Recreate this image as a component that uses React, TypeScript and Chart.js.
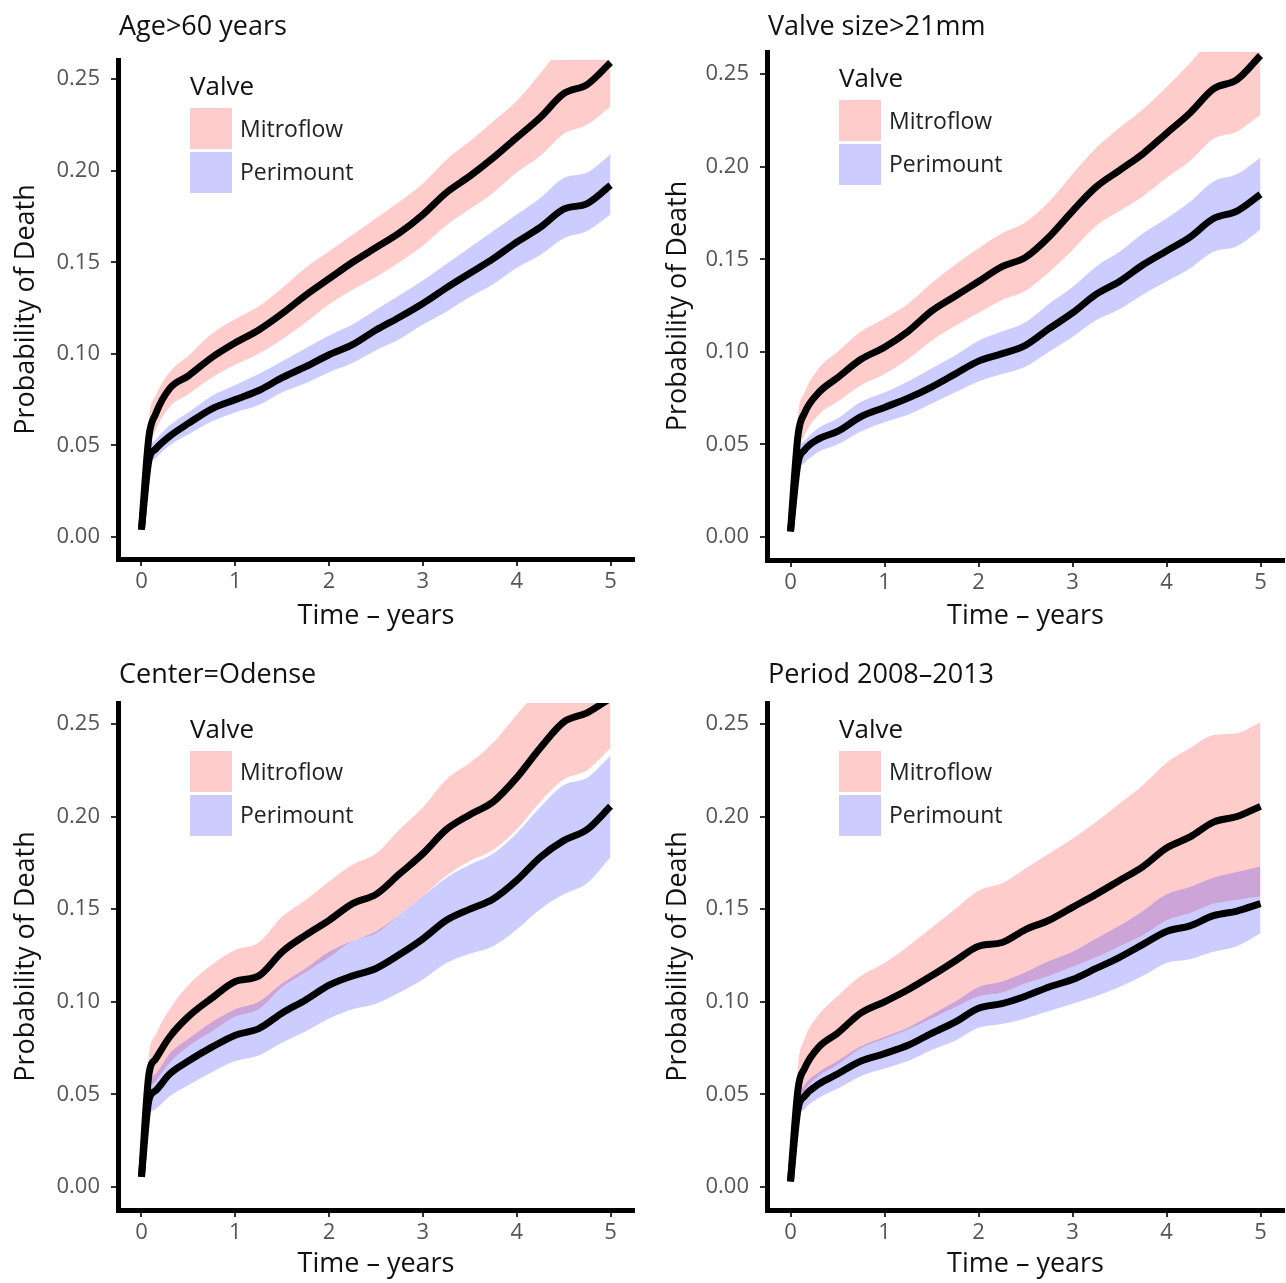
import React, { useEffect, useRef } from "react";
import { Chart, registerables } from "chart.js";

Chart.register(...registerables);

// ---------- data ----------
const TIME = [0, 0.08, 0.15, 0.3, 0.5, 0.75, 1, 1.25, 1.5, 1.75, 2, 2.25, 2.5, 2.75, 3, 3.25, 3.5, 3.75, 4, 4.25, 4.5, 4.75, 5];
const X_TICKS = [0, 1, 2, 3, 4, 5];
const Y_TICKS = [0, 0.05, 0.1, 0.15, 0.2, 0.25];
const SERIES_NAMES = ["Mitroflow", "Perimount"];
const LEGEND_TITLE = "Valve";
const X_TITLE = "Time \u2013 years";
const Y_TITLE = "Probability of Death";
const PANEL_TITLES = ["Age>60 years", "Valve size>21mm", "Center=Odense", "Period 2008\u20132013"];

// Age>60 years
const AGE_MITRO = [0.004, 0.055, 0.067, 0.081, 0.088, 0.098, 0.106, 0.113, 0.122, 0.132, 0.141, 0.150, 0.158, 0.166, 0.176, 0.188, 0.197, 0.207, 0.218, 0.229, 0.242, 0.247, 0.259];
const AGE_MITRO_HI = [0.005, 0.065, 0.077, 0.090, 0.099, 0.111, 0.119, 0.126, 0.136, 0.147, 0.156, 0.165, 0.174, 0.183, 0.193, 0.206, 0.216, 0.227, 0.238, 0.253, 0.268, 0.274, 0.285];
const AGE_MITRO_LO = [0.004, 0.047, 0.058, 0.071, 0.078, 0.087, 0.094, 0.100, 0.108, 0.117, 0.127, 0.135, 0.142, 0.150, 0.159, 0.170, 0.179, 0.188, 0.199, 0.208, 0.220, 0.225, 0.235];
const AGE_PERI = [0.004, 0.042, 0.048, 0.055, 0.062, 0.070, 0.075, 0.080, 0.087, 0.093, 0.0995, 0.105, 0.113, 0.120, 0.1275, 0.136, 0.144, 0.152, 0.161, 0.169, 0.179, 0.182, 0.192];
const AGE_PERI_HI = [0.005, 0.047, 0.053, 0.061, 0.068, 0.077, 0.083, 0.089, 0.096, 0.103, 0.110, 0.116, 0.124, 0.132, 0.140, 0.149, 0.158, 0.167, 0.176, 0.185, 0.196, 0.199, 0.209];
const AGE_PERI_LO = [0.004, 0.038, 0.043, 0.050, 0.056, 0.063, 0.068, 0.072, 0.079, 0.084, 0.090, 0.095, 0.102, 0.108, 0.116, 0.123, 0.131, 0.138, 0.147, 0.154, 0.163, 0.167, 0.176];

// Valve size>21mm
const SIZE_MITRO = [0.003, 0.055, 0.067, 0.078, 0.086, 0.096, 0.1025, 0.111, 0.122, 0.130, 0.138, 0.146, 0.151, 0.162, 0.176, 0.189, 0.198, 0.207, 0.218, 0.229, 0.242, 0.247, 0.260];
const SIZE_MITRO_HI = [0.004, 0.066, 0.078, 0.091, 0.100, 0.111, 0.118, 0.126, 0.137, 0.147, 0.156, 0.164, 0.170, 0.181, 0.196, 0.210, 0.221, 0.231, 0.243, 0.256, 0.270, 0.276, 0.290];
const SIZE_MITRO_LO = [0.003, 0.045, 0.055, 0.066, 0.073, 0.082, 0.088, 0.096, 0.106, 0.114, 0.121, 0.128, 0.133, 0.143, 0.155, 0.168, 0.176, 0.184, 0.194, 0.203, 0.215, 0.219, 0.228];
const SIZE_PERI = [0.003, 0.040, 0.047, 0.053, 0.057, 0.065, 0.070, 0.075, 0.081, 0.088, 0.095, 0.099, 0.1035, 0.1125, 0.121, 0.131, 0.138, 0.147, 0.1545, 0.162, 0.172, 0.176, 0.185];
const SIZE_PERI_HI = [0.004, 0.046, 0.052, 0.059, 0.064, 0.073, 0.078, 0.084, 0.091, 0.098, 0.106, 0.111, 0.116, 0.126, 0.135, 0.146, 0.154, 0.164, 0.172, 0.181, 0.192, 0.196, 0.205];
const SIZE_PERI_LO = [0.003, 0.035, 0.040, 0.046, 0.050, 0.057, 0.062, 0.066, 0.072, 0.078, 0.084, 0.088, 0.092, 0.100, 0.108, 0.117, 0.123, 0.131, 0.138, 0.145, 0.154, 0.157, 0.166];

// Center=Odense
const CENTER_MITRO = [0.0055, 0.061, 0.069, 0.081, 0.092, 0.102, 0.111, 0.114, 0.127, 0.136, 0.144, 0.153, 0.158, 0.169, 0.180, 0.193, 0.201, 0.208, 0.221, 0.237, 0.251, 0.256, 0.264];
const CENTER_MITRO_HI = [0.006, 0.071, 0.082, 0.096, 0.109, 0.120, 0.128, 0.132, 0.146, 0.155, 0.165, 0.174, 0.180, 0.193, 0.205, 0.220, 0.229, 0.240, 0.255, 0.270, 0.286, 0.292, 0.300];
const CENTER_MITRO_LO = [0.005, 0.050, 0.057, 0.067, 0.076, 0.084, 0.092, 0.096, 0.108, 0.116, 0.124, 0.133, 0.137, 0.147, 0.157, 0.168, 0.176, 0.182, 0.193, 0.208, 0.220, 0.225, 0.237];
const CENTER_PERI = [0.0055, 0.047, 0.052, 0.061, 0.068, 0.0755, 0.082, 0.0855, 0.094, 0.101, 0.109, 0.114, 0.118, 0.1255, 0.134, 0.144, 0.150, 0.1555, 0.1655, 0.178, 0.187, 0.193, 0.2055];
const CENTER_PERI_HI = [0.006, 0.055, 0.061, 0.072, 0.080, 0.089, 0.096, 0.100, 0.110, 0.118, 0.127, 0.133, 0.138, 0.147, 0.157, 0.167, 0.174, 0.180, 0.191, 0.205, 0.217, 0.221, 0.233];
const CENTER_PERI_LO = [0.005, 0.038, 0.042, 0.049, 0.055, 0.062, 0.068, 0.071, 0.078, 0.084, 0.091, 0.096, 0.099, 0.105, 0.112, 0.121, 0.126, 0.130, 0.139, 0.150, 0.158, 0.164, 0.178];

// Period 2008-2013
const PERIOD_MITRO = [0.003, 0.053, 0.064, 0.0755, 0.083, 0.094, 0.100, 0.1065, 0.114, 0.122, 0.130, 0.132, 0.139, 0.144, 0.151, 0.158, 0.1655, 0.173, 0.183, 0.189, 0.197, 0.200, 0.2055];
const PERIOD_MITRO_HI = [0.004, 0.066, 0.080, 0.093, 0.103, 0.114, 0.121, 0.130, 0.140, 0.150, 0.160, 0.164, 0.172, 0.180, 0.188, 0.197, 0.207, 0.217, 0.229, 0.237, 0.244, 0.245, 0.251];
const PERIOD_MITRO_LO = [0.003, 0.044, 0.052, 0.060, 0.066, 0.075, 0.080, 0.085, 0.091, 0.097, 0.103, 0.105, 0.110, 0.114, 0.119, 0.124, 0.130, 0.136, 0.144, 0.148, 0.153, 0.155, 0.157];
const PERIOD_PERI = [0.003, 0.042, 0.049, 0.0555, 0.061, 0.068, 0.072, 0.0765, 0.083, 0.089, 0.0965, 0.099, 0.103, 0.108, 0.112, 0.118, 0.124, 0.131, 0.138, 0.141, 0.1465, 0.149, 0.153];
const PERIOD_PERI_HI = [0.004, 0.047, 0.055, 0.062, 0.068, 0.076, 0.081, 0.086, 0.093, 0.100, 0.108, 0.111, 0.116, 0.122, 0.127, 0.134, 0.141, 0.149, 0.158, 0.162, 0.167, 0.170, 0.173];
const PERIOD_PERI_LO = [0.003, 0.036, 0.042, 0.048, 0.053, 0.060, 0.064, 0.068, 0.074, 0.079, 0.086, 0.088, 0.091, 0.095, 0.099, 0.103, 0.108, 0.114, 0.121, 0.123, 0.127, 0.130, 0.137];

// ---------- styles ----------
const FONT = '"Open Sans", "DejaVu Sans", sans-serif';
const MITRO_FILL = "rgba(255, 0, 0, 0.2)";
const PERI_FILL = "rgba(0, 0, 255, 0.2)";
const LINE_COLOR = "#000000";

type Series = { line: number[]; hi: number[]; lo: number[] };
type PanelDef = {
  title: string;
  mitro: Series;
  peri: Series;
  box: { x: number; y: number; w: number; h: number };
  pad: { top: number; left: number; right: number; bottom: number };
  yRange: [number, number];
  titleBaseline: number;
  yTitlePad: number;
  xTitlePad: number;
};

const PANELS: PanelDef[] = [
  {
    title: PANEL_TITLES[0],
    mitro: { line: AGE_MITRO, hi: AGE_MITRO_HI, lo: AGE_MITRO_LO },
    peri: { line: AGE_PERI, hi: AGE_PERI_HI, lo: AGE_PERI_LO },
    box: { x: 0, y: 0, w: 643, h: 641 },
    pad: { top: 60, left: 118, right: 9, bottom: 82 },
    yRange: [-0.012, 0.2604],
    titleBaseline: 35,
    yTitlePad: 10,
    xTitlePad: 8,
  },
  {
    title: PANEL_TITLES[1],
    mitro: { line: SIZE_MITRO, hi: SIZE_MITRO_HI, lo: SIZE_MITRO_LO },
    peri: { line: SIZE_PERI, hi: SIZE_PERI_HI, lo: SIZE_PERI_LO },
    box: { x: 643, y: 0, w: 643, h: 641 },
    pad: { top: 52, left: 124, right: 2, bottom: 81 },
    yRange: [-0.0124, 0.2619],
    titleBaseline: 35,
    yTitlePad: 19,
    xTitlePad: 8,
  },
  {
    title: PANEL_TITLES[2],
    mitro: { line: CENTER_MITRO, hi: CENTER_MITRO_HI, lo: CENTER_MITRO_LO },
    peri: { line: CENTER_PERI, hi: CENTER_PERI_HI, lo: CENTER_PERI_LO },
    box: { x: 0, y: 641, w: 643, h: 642 },
    pad: { top: 62, left: 118, right: 9, bottom: 73 },
    yRange: [-0.0124, 0.2613],
    titleBaseline: 42,
    yTitlePad: 10,
    xTitlePad: 2,
  },
  {
    title: PANEL_TITLES[3],
    mitro: { line: PERIOD_MITRO, hi: PERIOD_MITRO_HI, lo: PERIOD_MITRO_LO },
    peri: { line: PERIOD_PERI, hi: PERIOD_PERI_HI, lo: PERIOD_PERI_LO },
    box: { x: 643, y: 641, w: 643, h: 642 },
    pad: { top: 62, left: 124, right: 2, bottom: 73 },
    yRange: [-0.0124, 0.2613],
    titleBaseline: 42,
    yTitlePad: 19,
    xTitlePad: 2,
  },
];

const pts = (ys: number[]) => TIME.map((t, i) => ({ x: t, y: ys[i] }));

const decorPlugin = {
  id: "panelDecor",
  afterDraw(chart: any, _args: any, opts: any) {
    const { ctx, chartArea } = chart;
    ctx.save();
    ctx.textAlign = "left";
    ctx.textBaseline = "alphabetic";
    // panel title
    ctx.fillStyle = "#111111";
    ctx.font = `27px ${FONT}`;
    ctx.fillText(opts.title, chartArea.left + 1, opts.titleBaseline);
    // legend
    const lx = chartArea.left + 72;
    const ty = chartArea.top;
    ctx.font = `26px ${FONT}`;
    ctx.fillStyle = "#111111";
    ctx.fillText(LEGEND_TITLE, lx, ty + 35);
    const fills = [MITRO_FILL, PERI_FILL];
    SERIES_NAMES.forEach((name, i) => {
      const by = ty + 48 + i * 44;
      ctx.fillStyle = "#ffffff";
      ctx.fillRect(lx, by, 42, 41);
      ctx.fillStyle = fills[i];
      ctx.fillRect(lx, by, 42, 41);
      ctx.fillStyle = "#222222";
      ctx.font = `23px ${FONT}`;
      ctx.fillText(name, lx + 50, ty + 77 + i * 43);
    });
    ctx.restore();
  },
};

function makeConfig(def: PanelDef): any {
  const band = (ys: number[], fill: any, color: string) => ({
    data: pts(ys),
    borderWidth: 0,
    borderColor: "rgba(0,0,0,0)",
    backgroundColor: color,
    pointRadius: 0,
    fill,
    cubicInterpolationMode: "monotone",
  });
  const line = (ys: number[], label: string) => ({
    label,
    data: pts(ys),
    borderColor: LINE_COLOR,
    borderWidth: 7,
    borderJoinStyle: "round",
    borderCapStyle: "butt",
    pointRadius: 0,
    fill: false,
    cubicInterpolationMode: "monotone",
  });
  return {
    type: "line",
    data: {
      datasets: [
        line(def.mitro.line, SERIES_NAMES[0]),
        line(def.peri.line, SERIES_NAMES[1]),
        band(def.peri.hi, false, PERI_FILL),
        band(def.peri.lo, "-1", PERI_FILL),
        band(def.mitro.hi, false, MITRO_FILL),
        band(def.mitro.lo, "-1", MITRO_FILL),
      ],
    },
    options: {
      responsive: false,
      animation: false,
      devicePixelRatio: 1,
      events: [],
      layout: { padding: { top: def.pad.top, left: 0, right: def.pad.right, bottom: 0 } },
      plugins: {
        legend: { display: false },
        tooltip: { enabled: false },
        title: { display: false },
        panelDecor: { title: def.title, titleBaseline: def.titleBaseline },
      },
      scales: {
        x: {
          type: "linear",
          min: -0.25,
          max: 5.25,
          afterBuildTicks: (s: any) => {
            s.ticks = X_TICKS.map((v) => ({ value: v }));
          },
          afterFit: (s: any) => {
            s.height = def.pad.bottom;
          },
          ticks: {
            autoSkip: false,
            maxRotation: 0,
            padding: 3,
            color: "#555555",
            font: { size: 22, family: FONT },
            callback: (v: any) => String(v),
          },
          grid: { display: true, drawOnChartArea: false, drawTicks: true, tickLength: 7, color: "#333333", lineWidth: 2 },
          border: { display: true, color: "#000000", width: 5 },
          title: {
            display: true,
            text: X_TITLE,
            color: "#111111",
            font: { size: 27, family: FONT },
            padding: { top: 0, bottom: def.xTitlePad },
          },
        },
        y: {
          type: "linear",
          min: def.yRange[0],
          max: def.yRange[1],
          afterBuildTicks: (s: any) => {
            s.ticks = Y_TICKS.map((v) => ({ value: v }));
          },
          afterFit: (s: any) => {
            s.width = def.pad.left;
          },
          ticks: {
            autoSkip: false,
            padding: 11,
            color: "#555555",
            font: { size: 22, family: FONT },
            callback: (v: any) => Number(v).toFixed(2),
          },
          grid: { display: true, drawOnChartArea: false, drawTicks: true, tickLength: 7, color: "#333333", lineWidth: 2 },
          border: { display: true, color: "#000000", width: 5 },
          title: {
            display: true,
            text: Y_TITLE,
            color: "#111111",
            font: { size: 27, family: FONT },
            padding: { top: def.yTitlePad, bottom: 0 },
          },
        },
      },
    },
    plugins: [decorPlugin],
  };
}

function Panel({ def }: { def: PanelDef }) {
  const ref = useRef<HTMLCanvasElement | null>(null);
  useEffect(() => {
    if (!ref.current) return;
    const chart = new Chart(ref.current, makeConfig(def));
    return () => chart.destroy();
  }, [def]);
  return (
    <canvas
      ref={ref}
      width={def.box.w}
      height={def.box.h}
      style={{ position: "absolute", left: def.box.x, top: def.box.y, width: def.box.w, height: def.box.h, display: "block" }}
    />
  );
}

export default function App() {
  return (
    <div style={{ position: "absolute", left: 0, top: 0, width: 1286, height: 1283, background: "#ffffff", overflow: "hidden" }}>
      {PANELS.map((p, i) => (
        <Panel key={i} def={p} />
      ))}
    </div>
  );
}
